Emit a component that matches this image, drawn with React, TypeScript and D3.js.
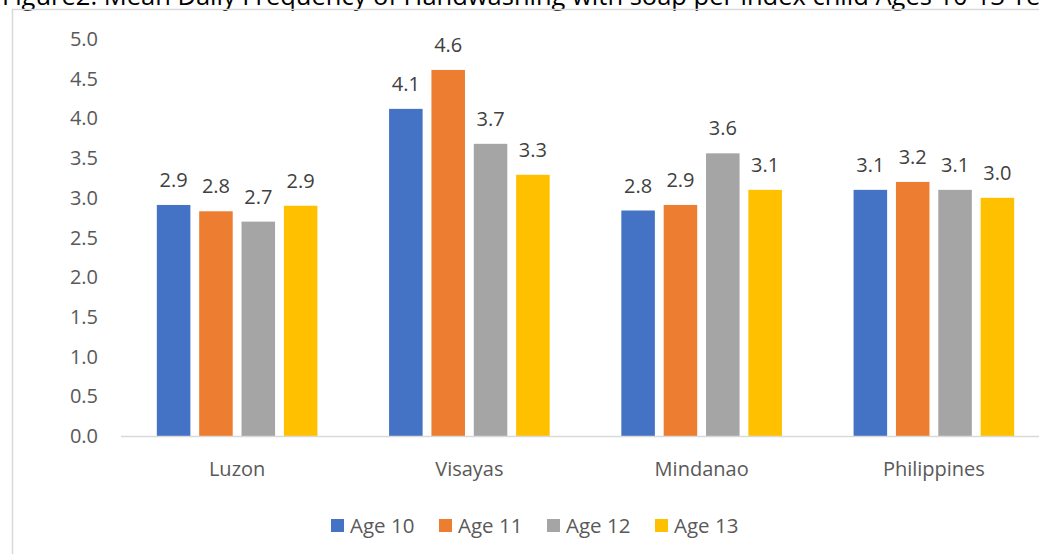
import React from "react";
import * as d3 from "d3";

const title =
  "Figure2: Mean Daily Frequency of Handwashing with soap per index child Ages 10-13 Years";

const regions = ["Luzon", "Visayas", "Mindanao", "Philippines"];
const series = ["Age 10", "Age 11", "Age 12", "Age 13"];
const colors = ["#4472C4", "#ED7D31", "#A5A5A5", "#FFC000"];

// Mean daily handwashing frequency, one array per age group (in region order)
const age10 = [2.91, 4.12, 2.84, 3.1];
const age11 = [2.83, 4.61, 2.91, 3.2];
const age12 = [2.7, 3.68, 3.56, 3.1];
const age13 = [2.9, 3.29, 3.1, 3.0];
const seriesValues = [age10, age11, age12, age13];

const yTicks = [0, 0.5, 1, 1.5, 2, 2.5, 3, 3.5, 4, 4.5, 5];

const W = 1039;
const H = 554;
const FONT = "'Open Sans', sans-serif";
const LABEL_SIZE = 20;

export default function App() {
  const plotLeft = 121;
  const plotRight = 1050;
  const plotTop = 39;
  const plotBottom = 436;

  const y = d3.scaleLinear().domain([0, 5]).range([plotBottom, plotTop]);
  const x0 = d3.scaleBand<string>().domain(regions).range([plotLeft, plotRight]).padding(0);
  const x1 = d3
    .scaleBand<string>()
    .domain(series)
    .range([0, x0.bandwidth()])
    .paddingInner(0.208)
    .paddingOuter(0.846);

  const legendX = 331;
  const legendStep = 108;
  const legendY = 519;

  return (
    <svg
      width={W}
      height={H}
      style={{ position: "absolute", left: 0, top: 0, background: "#fff" }}
      fontFamily={FONT}
    >
      <text x={2} y={5} fontSize={25.5} fill="#000">
        {title}
      </text>
      {/* chart frame */}
      <path
        d={`M12.5,${H + 2} V9.5 H${W + 2}`}
        fill="none"
        stroke="#D9D9D9"
        strokeWidth={1.5}
      />

      {/* y-axis tick labels */}
      {yTicks.map((t) => (
        <text
          key={t}
          x={98}
          y={y(t)}
          dy="0.35em"
          textAnchor="end"
          fontSize={LABEL_SIZE}
          fill="#595959"
        >
          {d3.format(".1f")(t)}
        </text>
      ))}

      {/* bars and value labels */}
      {regions.map((r, ri) => (
        <g key={r} transform={`translate(${x0(r)},0)`}>
          {series.map((s, si) => {
            const v = seriesValues[si][ri];
            const bx = x1(s)!;
            return (
              <g key={s}>
                <rect
                  x={bx}
                  y={y(v)}
                  width={x1.bandwidth()}
                  height={plotBottom - y(v)}
                  fill={colors[si]}
                />
                <text
                  x={bx + x1.bandwidth() / 2}
                  y={y(v) - 18}
                  textAnchor="middle"
                  fontSize={LABEL_SIZE}
                  fill="#404040"
                >
                  {v.toFixed(1)}
                </text>
              </g>
            );
          })}
        </g>
      ))}

      {/* category axis */}
      <line
        x1={plotLeft}
        x2={plotRight}
        y1={plotBottom + 0.5}
        y2={plotBottom + 0.5}
        stroke="#D9D9D9"
        strokeWidth={1.5}
      />
      {regions.map((r) => (
        <text
          key={r}
          x={x0(r)! + x0.bandwidth() / 2}
          y={476}
          textAnchor="middle"
          fontSize={LABEL_SIZE}
          fill="#595959"
        >
          {r}
        </text>
      ))}

      {/* legend */}
      {series.map((s, i) => (
        <g key={s} transform={`translate(${legendX + i * legendStep},${legendY})`}>
          <rect width={13} height={13} fill={colors[i]} />
          <text x={19} y={14} fontSize={20.5} fill="#595959">
            {s}
          </text>
        </g>
      ))}
    </svg>
  );
}
